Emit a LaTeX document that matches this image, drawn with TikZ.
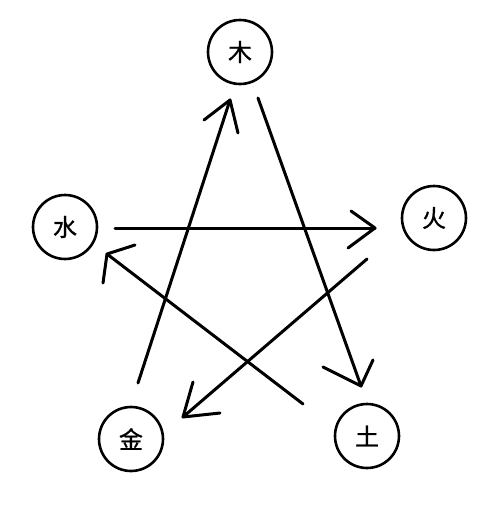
\documentclass[tikz,border=0pt]{standalone}
\usepackage{fontspec}
\newfontfamily\cjk[FakeBold=0.9]{Noto Sans CJK SC}
\begin{document}
\begin{tikzpicture}[x=1pt,y=-1pt,
  elem/.style={circle,draw=black,line width=2.6pt,minimum size=64pt,inner sep=0pt,font=\cjk\fontsize{24}{24}\selectfont},
  stroke/.style={line width=3pt,line cap=round,line join=round}]
\useasboundingbox (0,0) rectangle (490,509);
\node[elem] (mu) at (240,52) {木};
\node[elem] (huo) at (434,218) {火};
\node[elem] (shui) at (65,227) {水};
\node[elem] (jin) at (131,439) {金};
\node[elem] (tu) at (367,436) {土};
% 金 -> 木
\coordinate (a1s) at (138,383); \coordinate (a1t) at (230,100);
\coordinate (a1l) at (204,120); \coordinate (a1r) at (238,133);
\draw[stroke] (a1s) -- (a1t);
\draw[stroke] (a1l) -- (a1t) -- (a1r);
% 木 -> 土
\coordinate (a2s) at (258,98); \coordinate (a2t) at (361,386);
\coordinate (a2l) at (323,367); \coordinate (a2r) at (373,360);
\draw[stroke] (a2s) -- (a2t);
\draw[stroke] (a2l) -- (a2t) -- (a2r);
% 水 -> 火
\coordinate (a3s) at (115,228); \coordinate (a3t) at (375,228);
\coordinate (a3l) at (351,211); \coordinate (a3r) at (348,248);
\draw[stroke] (a3s) -- (a3t);
\draw[stroke] (a3l) -- (a3t) -- (a3r);
% 火 -> 金
\coordinate (a4s) at (367,259); \coordinate (a4t) at (183,417);
\coordinate (a4l) at (193,382); \coordinate (a4r) at (220,413);
\draw[stroke] (a4s) -- (a4t);
\draw[stroke] (a4l) -- (a4t) -- (a4r);
% 土 -> 水
\coordinate (a5s) at (303,404); \coordinate (a5t) at (107,254);
\coordinate (a5l) at (135,245); \coordinate (a5r) at (103,283);
\draw[stroke] (a5s) -- (a5t);
\draw[stroke] (a5l) -- (a5t) -- (a5r);
\end{tikzpicture}
\end{document}
